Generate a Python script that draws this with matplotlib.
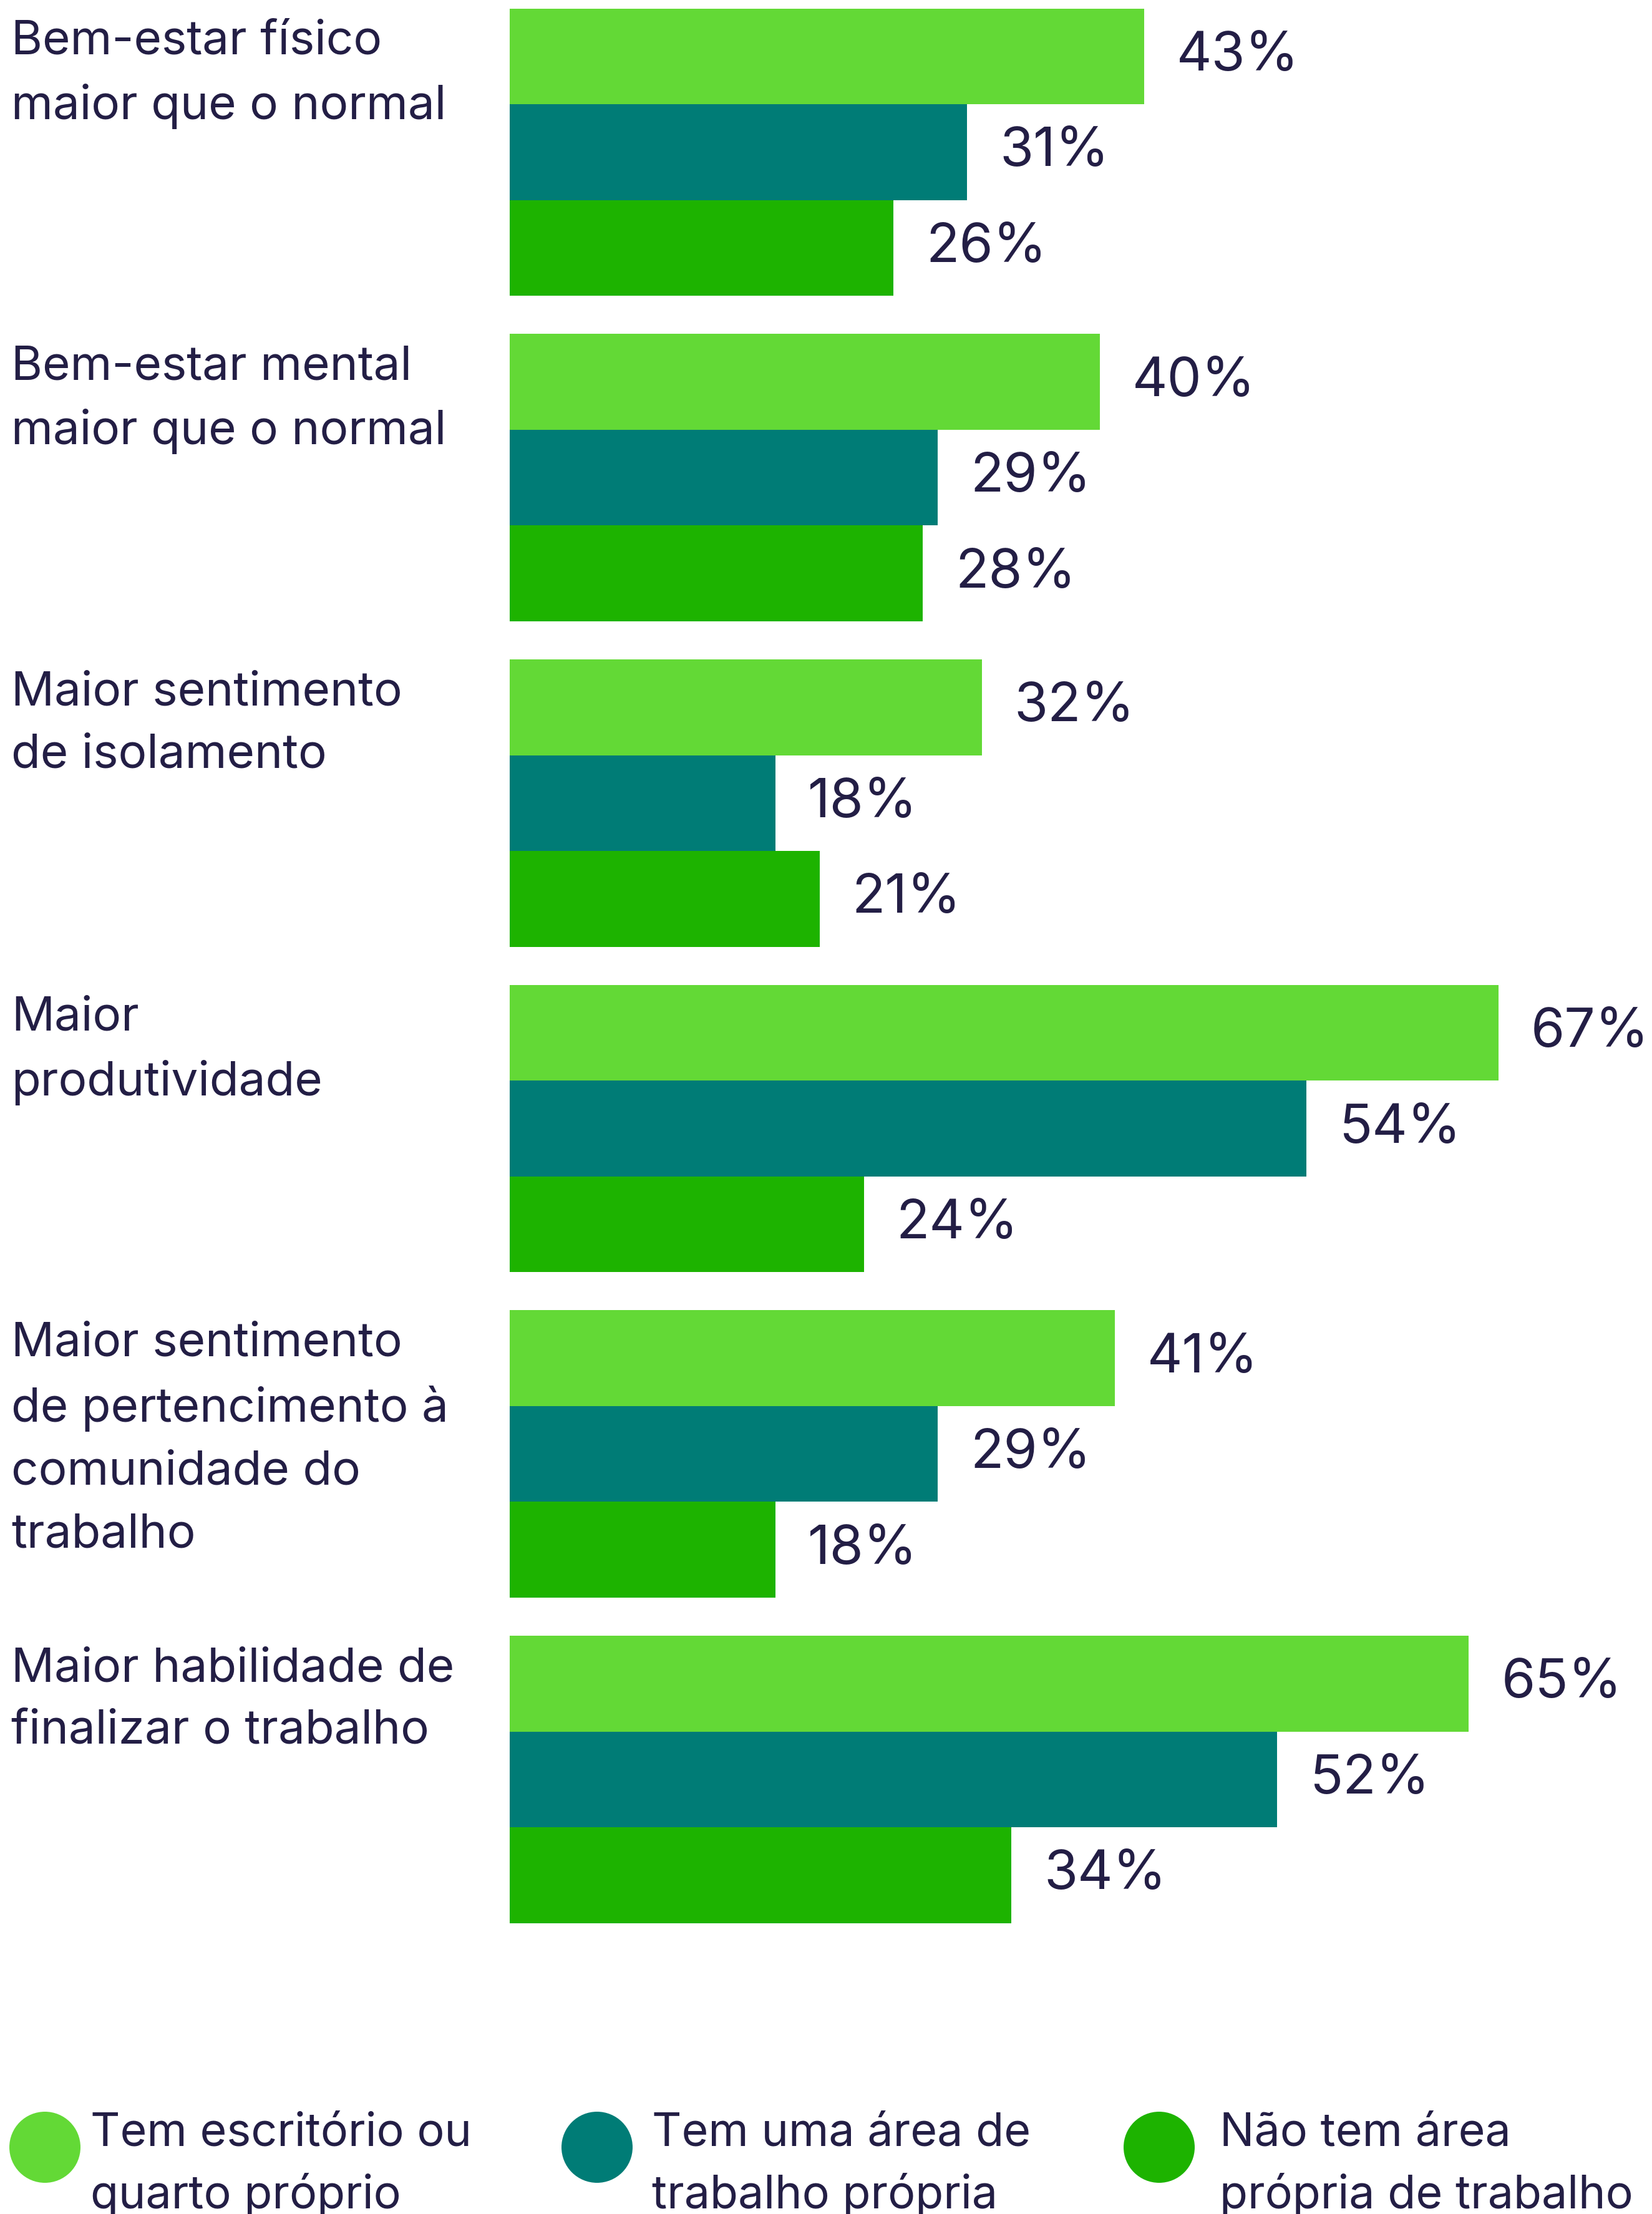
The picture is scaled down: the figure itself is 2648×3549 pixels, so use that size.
import matplotlib
matplotlib.use("Agg")
import matplotlib.pyplot as plt
from matplotlib.transforms import blended_transform_factory
from matplotlib.patches import Circle
import numpy as np

categories = [
    "Bem-estar físico\nmaior que o normal",
    "Bem-estar mental\nmaior que o normal",
    "Maior sentimento\nde isolamento",
    "Maior\nprodutividade",
    "Maior sentimento\nde pertencimento à\ncomunidade do\ntrabalho",
    "Maior habilidade de\nfinalizar o trabalho",
]
series_names = [
    "Tem escritório ou\nquarto próprio",
    "Tem uma área de\ntrabalho própria",
    "Não tem área\nprópria de trabalho",
]
escritorio = [43, 40, 32, 67, 41, 65]
area_propria = [31, 29, 18, 54, 29, 52]
sem_area = [26, 28, 21, 24, 18, 34]

colors = ["#63D936", "#007C76", "#1DB300"]
text_color = "#231E45"

plt.rcParams['font.family'] = ['Inter', 'DejaVu Sans']

W, H = 2648, 3549
fig = plt.figure(figsize=(W / 100, H / 100), dpi=100)
fig.patch.set_facecolor("white")

# bar axes in shown-px (1170x1568) geometry
sx = 1170.0
sy = 1568.0
left = 361 / sx
top = 6 / sy
bottom = 1362 / sy
ax = fig.add_axes([left, 1 - bottom, 1 - left, bottom - top])
h = 68 / 231.0
ax.set_ylim(5 + 1.5 * h, -1.5 * h)
ax.set_xlim(0, (sx - 361) / 10.45)
ax.axis("off")

y = np.arange(len(categories))
all_series = [escritorio, area_propria, sem_area]
for k, vals in enumerate(all_series):
    yy = y + (k - 1) * h
    ax.barh(yy, vals, height=h, color=colors[k], linewidth=0)
    for yi, v in zip(yy, vals):
        ax.annotate(f"{v}%", xy=(v, yi), xytext=(52, 0), textcoords="offset pixels",
                    va="center", ha="left", fontsize=63, color=text_color)

trans = blended_transform_factory(fig.transFigure, ax.transData)
for i, cat in enumerate(categories):
    ax.text(8 / sx, i - 1.5 * h + 0.035, cat, transform=trans, ha="left", va="top",
            fontsize=55, color=text_color, linespacing=1.54)

# legend overlay in pixel coordinates
lax = fig.add_axes([0, 0, 1, 1])
lax.set_xlim(0, W)
lax.set_ylim(H, 0)
lax.axis("off")
circle_x = [72, 957, 1858]
text_x = [145, 1045, 1955]
for cx, tx, name, c in zip(circle_x, text_x, series_names, colors):
    lax.add_patch(Circle((cx, 3442), 57, color=c, linewidth=0))
    lax.text(tx, 3470, name, ha="left", va="center", fontsize=53,
             color=text_color, linespacing=1.5)

fig.savefig("out.png", dpi=100, facecolor="white")
